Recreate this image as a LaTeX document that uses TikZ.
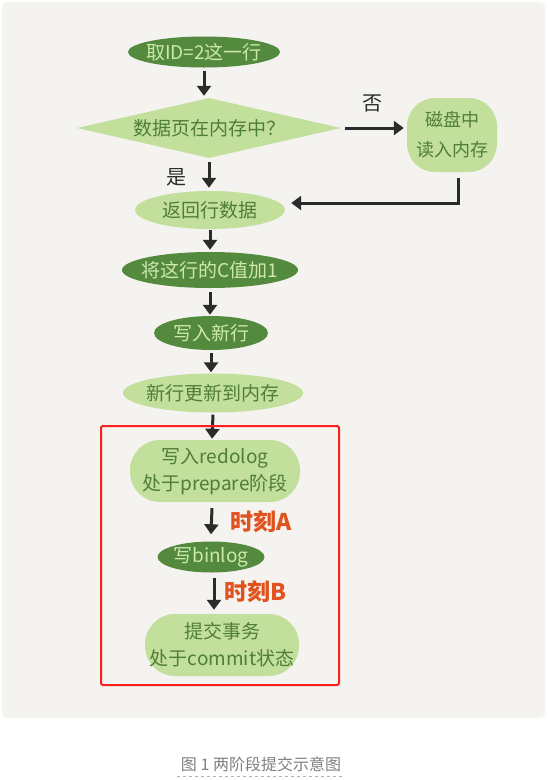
\documentclass[tikz,border=0pt]{standalone}
\usepackage{fontspec}
\setmainfont{Noto Sans CJK SC}
\usetikzlibrary{shapes.geometric,arrows.meta}
\definecolor{bgpanel}{HTML}{F4F3F0}
\definecolor{dkgreen}{HTML}{548A3E}
\definecolor{ltgreen}{HTML}{C3DF9C}
\definecolor{dktext}{HTML}{4F7E38}
\definecolor{lttext}{HTML}{CDE8AE}
\definecolor{momentc}{HTML}{E0521E}
\definecolor{boxred}{HTML}{FF1E1E}
\definecolor{arrowc}{HTML}{2B2B2B}
\definecolor{capgray}{HTML}{808080}
\tikzset{
  darkstep/.style={ellipse, fill=dkgreen, inner sep=0pt},
  lightstep/.style={ellipse, fill=ltgreen, inner sep=0pt},
  lightblob/.style={rectangle, rounded corners=30pt, fill=ltgreen, inner sep=0pt},
  darktxt/.style={text=lttext, inner sep=0pt, font=\fontsize{19}{22}\selectfont},
  lighttxt/.style={text=dktext, inner sep=0pt, align=center, font=\fontsize{19}{27}\selectfont},
  flow/.style={draw=arrowc, line width=3pt, -{Triangle[length=10pt,width=14pt]}},
  moment/.style={text=momentc, font=\fontsize{23}{26}\selectfont\bfseries, anchor=west},
  yesno/.style={text=arrowc, font=\fontsize{20}{22}\selectfont}
}
\begin{document}
\begin{tikzpicture}[x=1pt,y=-1pt]
\useasboundingbox (0,0) rectangle (547,780);
\fill[white] (0,0) rectangle (547,780);
\fill[bgpanel, rounded corners=6pt] (2,2) rectangle (545,718);

\node[darkstep, minimum width=152pt, minimum height=31pt] (fetch) at (204,52) {};
\node[darktxt] (fetch-t) at (fetch) {取ID=2这一行};
\node[diamond, fill=ltgreen, inner sep=0pt, aspect=4.4, minimum width=264pt, minimum height=60pt] (inmem) at (209,128) {};
\node[lighttxt] (inmem-t) at (inmem) {数据页在内存中？};
\node[lightblob, rounded corners=28pt, minimum width=90pt, minimum height=74pt] (disk) at (452,135) {};
\node[lighttxt, font=\fontsize{18}{30}\selectfont] (disk-t) at (disk) {磁盘中\\读入内存};
\node[lightstep, minimum width=150pt, minimum height=38pt] (ret) at (210,210) {};
\node[lighttxt] (ret-t) at (ret) {返回行数据};
\node[darkstep, minimum width=176pt, minimum height=36pt] (incr) at (210,270) {};
\node[darktxt] (incr-t) at (incr) {将这行的C值加1};
\node[darkstep, minimum width=114pt, minimum height=34pt] (newrow) at (211,333) {};
\node[darktxt] (newrow-t) at (newrow) {写入新行};
\node[lightstep, minimum width=180pt, minimum height=39pt] (upd) at (213,393) {};
\node[lighttxt] (upd-t) at (upd) {新行更新到内存};
\node[lightblob, minimum width=170pt, minimum height=62pt] (redo) at (215,471) {};
\node[lighttxt] (redo-t) at (redo) {写入redolog\\处于prepare阶段};
\node[darkstep, minimum width=107pt, minimum height=31pt] (binlog) at (211,557) {};
\node[darktxt] (binlog-t) at (binlog) {写binlog};
\node[lightblob, minimum width=154pt, minimum height=62pt] (commit) at (222,645) {};
\node[lighttxt] (commit-t) at (commit) {提交事务\\处于commit状态};

\draw[flow] ([yshift=-3pt]fetch.south) -- ([yshift=2pt]inmem.north -| fetch.south);
\draw[flow] ([xshift=4pt]inmem.east) -- ([xshift=-3pt]disk.west |- inmem.east);
\node[yesno] (no) at (372,103) {否};
\draw[flow] ([yshift=-4pt]inmem.south) -- ([yshift=3pt]ret.north -| inmem.south);
\node[yesno] (yes) at (176,177) {是};
\coordinate (diskout) at (458,178);
\draw[flow] (diskout) |- ([xshift=6pt,yshift=7pt]ret.east);
\draw[flow] ([yshift=-1pt]ret.south) -- ([yshift=2pt]incr.north -| ret.south);
\draw[flow] ([yshift=-4pt]incr.south) -- ([yshift=1pt]newrow.north -| incr.south);
\draw[flow] ([yshift=-3pt]newrow.south) -- ([yshift=1pt]upd.north -| newrow.south);
\draw[flow] ([yshift=-2pt]upd.south) -- ([yshift=1pt,xshift=-1pt]redo.north -| upd.south);
\draw[flow] ([xshift=-3pt,yshift=-6pt]redo.south) -- ([xshift=0pt,yshift=7pt]binlog.north);
\node[moment] (ta) at (227,522) {时刻A};
\draw[flow] ([xshift=3pt,yshift=-5pt]binlog.south) -- ([xshift=3pt,yshift=4pt]binlog.south |- commit.north);
\node[moment] (tb) at (221,592) {时刻B};

\draw[boxred, line width=2pt, rounded corners=2pt] (101,426) rectangle (339,685);

\node[text=capgray, font=\fontsize{16}{18}\selectfont] (cap) at (261,764) {图 1 两阶段提交示意图};
\draw[capgray!60, dashed, line width=0.8pt] ([yshift=-1pt]cap.south west) -- ([yshift=-1pt]cap.south east);
\end{tikzpicture}
\end{document}
